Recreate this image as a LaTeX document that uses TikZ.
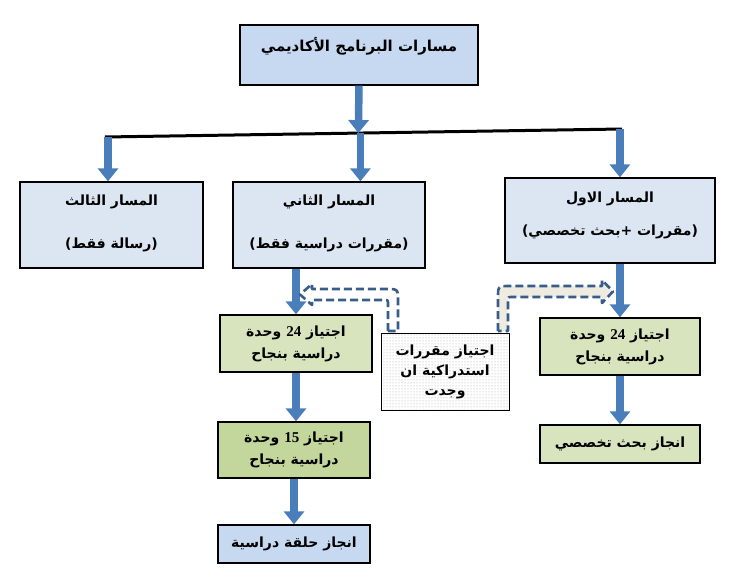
\documentclass[tikz,border=0pt]{standalone}
\usepackage{fontspec}
\usetikzlibrary{arrows.meta,patterns,calc}
\TeXXeTstate=1
\newfontfamily\arabicfont[Script=Arabic]{DejaVu Sans}
\newfontfamily\numfont{Liberation Serif}
\newcommand{\artxt}[1]{{\arabicfont\bfseries\beginR #1\endR}}
\newcommand{\nmtxt}[1]{\beginL{\numfont\bfseries\fontsize{15}{17}\selectfont #1}\endL}
\definecolor{topblue}{HTML}{C6D9F1}
\definecolor{pathblue}{HTML}{DCE6F2}
\definecolor{lgreen}{HTML}{D7E4BD}
\definecolor{dgreen}{HTML}{C3D69B}
\definecolor{arrblue}{HTML}{4A7EBB}
\definecolor{dashblue}{HTML}{385D8A}
\definecolor{beige}{HTML}{EEECE1}
\begin{document}
\begin{tikzpicture}[x=1pt,y=-1pt,
  box/.style={draw=black, line width=1.3pt, rectangle, align=center, inner sep=0pt,
    font=\fontsize{14}{17}\selectfont},
  blk/.style={line width=7.5pt, draw=arrblue, -{Triangle[width=20pt,length=13pt]}},
  dashband/.style={draw=dashblue, line width=2.6pt, dash pattern=on 8pt off 4pt, line join=round}]
\useasboundingbox (0,0) rectangle (740,578);

% boxes
\node[box, fill=topblue, minimum width=238pt, minimum height=60pt,
  font=\fontsize{15}{18}\selectfont] (top) at (359,55)
  {\artxt{مسارات البرنامج الأكاديمي}\\[4pt]\mbox{}};
\node[box, fill=pathblue, minimum width=183pt, minimum height=86pt] (p3) at (111.5,225)
  {\artxt{المسار الثالث}\\[26pt]\artxt{(رسالة فقط)}\\[-10pt]\mbox{}};
\node[box, fill=pathblue, minimum width=192pt, minimum height=86pt] (p2) at (329,225)
  {\artxt{المسار الثاني}\\[26pt]\artxt{(مقررات دراسية فقط)}\\[-10pt]\mbox{}};
\node[box, fill=pathblue, minimum width=210pt, minimum height=85pt] (p1) at (610,220.5)
  {\artxt{المسار الاول}\\[16pt]\artxt{(مقررات +بحث تخصصي)}\\[-4pt]\mbox{}};

\node[box, fill=lgreen, minimum width=152pt, minimum height=57pt] (g1) at (296,343.5)
  {\artxt{اجتياز \nmtxt{24} وحدة}\\[5pt]\artxt{دراسية بنجاح}};
\node[box, fill=dgreen, minimum width=152pt, minimum height=56pt] (g2) at (294,450)
  {\artxt{اجتياز \nmtxt{15} وحدة}\\[5pt]\artxt{دراسية بنجاح}};
\node[box, fill=topblue, minimum width=152pt, minimum height=38pt] (b) at (294,544)
  {\artxt{انجاز حلقة دراسية}};
\node[box, fill=lgreen, minimum width=160pt, minimum height=57pt] (r1) at (620,346.5)
  {\artxt{اجتياز \nmtxt{24} وحدة}\\[5pt]\artxt{دراسية بنجاح}};
\node[box, fill=lgreen, minimum width=160pt, minimum height=38pt] (r2) at (620,444)
  {\artxt{انجاز بحث تخصصي}};
\node[box, line width=1pt, preaction={fill=white}, pattern=dots, pattern color=gray!70,
  minimum width=128pt, minimum height=77pt] (opt) at (445,371.5)
  {\artxt{اجتياز مقررات}\\[3pt]\artxt{استدراكية ان}\\[3pt]\artxt{وجدت}};

% horizontal bar
\coordinate (hl) at (105,137);
\coordinate (hr) at (622,129);
\draw[line width=3pt] (hl) -- (hr);
\coordinate (c3) at ($(hl)!0.0058!(hr)$);
\coordinate (c2) at ($(hl)!0.494!(hr)$);
\coordinate (c1) at ($(hl)!0.996!(hr)$);
\coordinate (ct) at ($(hl)!0.49!(hr)$);

% blue arrows
\draw[blk] (top.south) -- (ct);
\draw[blk] (c3) -- (c3 |- p3.north);
\draw[blk] (c2) -- (c2 |- p2.north);
\draw[blk] (c1) -- (c1 |- p1.north);
\draw[blk] (g1.north |- p2.south) -- (g1.north);
\draw[blk] (g1.south) -- (g1.south |- g2.north);
\draw[blk] (g2.south) -- (b.north);
\draw[blk] (r1.north |- p1.south) -- (r1.north);
\draw[blk] (r1.south) -- (r2.north);

% dashed bent arrows
\draw[dashband, fill=white] (388,331) -- (388,304) .. controls (388,300) .. (384,300)
  -- (312,300) -- (312,305) -- (300,294.5) -- (312,284) -- (312,289) -- (386,289)
  .. controls (398,289) .. (398,301) -- (398,331) -- cycle;
\draw[dashband, fill=beige] (498,331) -- (498,298) .. controls (498,286) .. (510,286)
  -- (602,286) -- (602,280) -- (613,291.5) -- (602,303) -- (602,297) -- (512,297)
  .. controls (508,297) .. (508,301) -- (508,331) -- cycle;
\end{tikzpicture}
\end{document}
